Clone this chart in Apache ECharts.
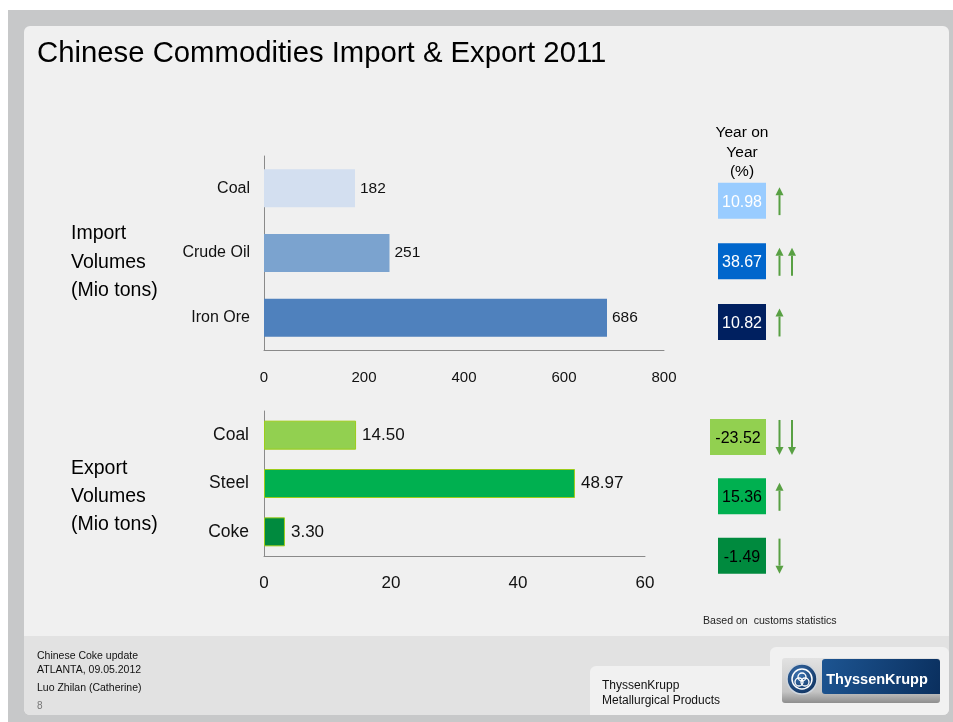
<!DOCTYPE html>
<html>
<head>
<meta charset="utf-8">
<script src="https://cdn.jsdelivr.net/npm/echarts@6/dist/echarts.min.js"></script>
<style>
html,body{margin:0;padding:0;background:#fff;}
#chart{width:953px;height:722px;}
</style>
</head>
<body>
<div id="chart"></div>
<script>
// ---- data ----
const importCategories = ['Coal', 'Crude Oil', 'Iron Ore'];
const importValues = [182, 251, 686];
const importYoY = [10.98, 38.67, 10.82];
const importArrows = [1, 2, 1];          // + up, - down, magnitude = number of arrows
const importTicks = [0, 200, 400, 600, 800];

const exportCategories = ['Coal', 'Steel', 'Coke'];
const exportValues = [14.50, 48.97, 3.30];
const exportYoY = [-23.52, 15.36, -1.49];
const exportArrows = [-2, 1, -1];
const exportTicks = [0, 20, 40, 60];

// ---- styles ----
const FONT = '"Liberation Sans", Arial, Helvetica, sans-serif';
const importColors = ['#d3dff0', '#7ba3cf', '#4f81bd'];
const exportColors = ['#92d050', '#00b050', '#008a3e'];
const importBoxColors = ['#99ccff', '#0066cc', '#002060'];
const exportBoxColors = ['#92d050', '#00b050', '#008a3e'];
const ARROW = '#58a043';
const AXIS = '#8a8a8a';

const chart = echarts.init(document.getElementById('chart'), null, {renderer: 'canvas'});

function barData(values, colors) {
  return values.map((v, i) => ({value: v, itemStyle: {color: colors[i]}}));
}
function yoyData(yoy, arrows) {
  return yoy.map((v, i) => [0, i, v, arrows[i]]);
}
function yoyRender(boxColors, textColor) {
  return function (params, api) {
    const idx = api.value(1);
    const val = api.value(2);
    const arr = api.value(3);
    const p = api.coord([0, idx]);
    const txt = val.toFixed(2);
    const w = 48 + Math.max(0, txt.length - 5) * 8;
    const h = 36;
    const children = [{
      type: 'rect',
      shape: {x: p[0] - w, y: p[1] - h / 2, width: w, height: h},
      style: {fill: boxColors[params.dataIndex]}
    }, {
      type: 'text',
      style: {
        x: p[0] - w / 2, y: p[1] + 1.5, text: txt, fill: textColor,
        font: '16px ' + FONT, textAlign: 'center', textVerticalAlign: 'middle'
      }
    }];
    const n = Math.abs(arr);
    const dir = arr > 0 ? 1 : -1;
    const L = dir > 0 ? 28 : 35;
    for (let k = 0; k < n; k++) {
      const x = p[0] + 13.5 + 12.5 * k;
      const tip = p[1] + 0.5 - dir * L / 2;
      const tail = p[1] + 0.5 + dir * L / 2;
      const headBase = tip + dir * 8;
      children.push({
        type: 'line',
        shape: {x1: x, y1: tail, x2: x, y2: headBase},
        style: {stroke: ARROW, lineWidth: 2}
      });
      children.push({
        type: 'polygon',
        shape: {points: [[x - 4, headBase], [x + 4, headBase], [x, tip]]},
        style: {fill: ARROW}
      });
    }
    return {type: 'group', children: children};
  };
}

function txt(x, y, text, size, opts) {
  return {
    type: 'text', x: x, y: y + 1.5, z: 10,
    style: Object.assign({text: text, fill: '#000', font: size + 'px ' + FONT, textVerticalAlign: 'middle'}, opts || {})
  };
}

const graphics = [
  // frame
  {type: 'rect', z: -10, shape: {x: 8, y: 10, width: 945, height: 712}, style: {fill: '#c7c8c9'}},
  {type: 'rect', z: -9, shape: {x: 24, y: 26, width: 925, height: 689, r: 6}, style: {fill: '#f0f0f0'}},
  {type: 'rect', z: -8, shape: {x: 24, y: 636, width: 925, height: 79, r: [0, 0, 6, 6]}, style: {fill: '#e2e2e2'}},
  {type: 'rect', z: -7, shape: {x: 590, y: 666, width: 200, height: 49, r: [6, 0, 0, 0]}, style: {fill: '#f1f1f1'}},
  {type: 'rect', z: -7, shape: {x: 770, y: 647, width: 179, height: 68, r: [6, 6, 6, 0]}, style: {fill: '#f1f1f1'}},
  // title
  txt(37, 52, 'Chinese Commodities Import & Export 2011', 29.3),
  // side labels
  txt(71, 232, 'Import', 19.5), txt(71, 261, 'Volumes', 19.5), txt(71, 289.5, '(Mio tons)', 19.5),
  txt(71, 467, 'Export', 19.5), txt(71, 495, 'Volumes', 19.5), txt(71, 523.5, '(Mio tons)', 19.5),
  // YoY header
  txt(742, 131, 'Year on', 15.5, {textAlign: 'center'}),
  txt(742, 151, 'Year', 15.5, {textAlign: 'center'}),
  txt(742, 170, '(%)', 15.5, {textAlign: 'center'}),
  txt(703, 620, 'Based on  customs statistics', 10.6, {fill: '#222'}),
  // footer
  txt(37, 655, 'Chinese Coke update', 10.5, {fill: '#111'}),
  txt(37, 669, 'ATLANTA, 09.05.2012', 10.5, {fill: '#111'}),
  txt(37, 687, 'Luo Zhilan (Catherine)', 10.5, {fill: '#111'}),
  txt(37, 705, '8', 10, {fill: '#777'}),
  txt(602, 684, 'ThyssenKrupp', 12, {fill: '#111'}),
  txt(602, 699, 'Metallurgical Products', 12, {fill: '#111'}),
  // logo
  {type: 'rect', z: 5, shape: {x: 782, y: 658, width: 158, height: 45, r: 3},
    style: {fill: new echarts.graphic.LinearGradient(0, 0, 0, 1, [{offset: 0, color: '#e2e2e2'}, {offset: 0.75, color: '#c4c4c4'}, {offset: 1, color: '#8e8e8e'}])}},
  {type: 'rect', z: 6, shape: {x: 822, y: 659, width: 118, height: 35, r: [3, 3, 0, 3]},
    style: {fill: new echarts.graphic.LinearGradient(0, 0, 1, 1, [{offset: 0, color: '#1d5592'}, {offset: 1, color: '#0a2f5e'}])}},
  {type: 'text', z: 7, x: 877, y: 679.5, style: {text: 'ThyssenKrupp', fill: '#fff', font: 'bold 14.5px ' + FONT, textAlign: 'center', textVerticalAlign: 'middle'}},
  {type: 'circle', z: 6, shape: {cx: 802, cy: 679, r: 15},
    style: {fill: new echarts.graphic.RadialGradient(0.4, 0.35, 0.7, [{offset: 0, color: '#3d73b0'}, {offset: 1, color: '#0d2f5c'}]), stroke: '#cfd6de', lineWidth: 1.5}},
  {type: 'circle', z: 7, shape: {cx: 802, cy: 679, r: 10}, style: {fill: 'none', stroke: '#ffffff', lineWidth: 1.5}},
  {type: 'circle', z: 7, shape: {cx: 799, cy: 682, r: 4}, style: {fill: 'none', stroke: '#ffffff', lineWidth: 1.3}},
  {type: 'circle', z: 7, shape: {cx: 805, cy: 682, r: 4}, style: {fill: 'none', stroke: '#ffffff', lineWidth: 1.3}},
  {type: 'circle', z: 7, shape: {cx: 802, cy: 677, r: 4}, style: {fill: 'none', stroke: '#ffffff', lineWidth: 1.3}}
];

const option = {
  backgroundColor: '#ffffff',
  animation: false,
  textStyle: {fontFamily: FONT},
  graphic: graphics,
  grid: [
    {left: 264, top: 156, width: 400, height: 194},
    {left: 264, top: 411, width: 381, height: 145},
    {left: 766, top: 170.3, width: 40, height: 182},
    {left: 766, top: 407.3, width: 40, height: 178}
  ],
  xAxis: [
    {gridIndex: 0, type: 'value', min: importTicks[0], max: importTicks[importTicks.length - 1], interval: importTicks[1] - importTicks[0],
      axisLine: {show: true, lineStyle: {color: AXIS, width: 1}}, axisTick: {show: false}, splitLine: {show: false},
      axisLabel: {margin: 20, fontSize: 15, color: '#111', fontFamily: FONT}},
    {gridIndex: 1, type: 'value', min: exportTicks[0], max: exportTicks[exportTicks.length - 1], interval: exportTicks[1] - exportTicks[0],
      axisLine: {show: true, lineStyle: {color: AXIS, width: 1}}, axisTick: {show: false}, splitLine: {show: false},
      axisLabel: {margin: 19, fontSize: 17, color: '#111', fontFamily: FONT}},
    {gridIndex: 2, type: 'value', min: 0, max: 1, show: false},
    {gridIndex: 3, type: 'value', min: 0, max: 1, show: false}
  ],
  yAxis: [
    {gridIndex: 0, type: 'category', inverse: true, data: importCategories,
      axisLine: {show: true, lineStyle: {color: AXIS, width: 1}}, axisTick: {show: false},
      axisLabel: {margin: 14, fontSize: 16, color: '#111', fontFamily: FONT, padding: [3, 0, 0, 0]}},
    {gridIndex: 1, type: 'category', inverse: true, data: exportCategories,
      axisLine: {show: true, lineStyle: {color: AXIS, width: 1}}, axisTick: {show: false},
      axisLabel: {margin: 15, fontSize: 17.5, color: '#111', fontFamily: FONT, padding: [3, 0, 0, 0]}},
    {gridIndex: 2, type: 'category', inverse: true, data: importCategories, show: false},
    {gridIndex: 3, type: 'category', inverse: true, data: exportCategories, show: false}
  ],
  series: [
    {type: 'bar', xAxisIndex: 0, yAxisIndex: 0, barWidth: 38, data: barData(importValues, importColors),
      label: {show: true, position: 'right', distance: 5, fontSize: 15.5, color: '#111', fontFamily: FONT, padding: [3, 0, 0, 0],
        formatter: p => String(Math.round(p.value))}},
    {type: 'bar', xAxisIndex: 1, yAxisIndex: 1, barWidth: 29, data: barData(exportValues, exportColors),
      itemStyle: {borderColor: '#9ccc1a', borderWidth: 1},
      label: {show: true, position: 'right', distance: 6, fontSize: 17, color: '#111', fontFamily: FONT, padding: [3, 0, 0, 0],
        formatter: p => Number(p.value).toFixed(2)}},
    {type: 'custom', xAxisIndex: 2, yAxisIndex: 2, clip: false, data: yoyData(importYoY, importArrows),
      renderItem: yoyRender(importBoxColors, '#ffffff')},
    {type: 'custom', xAxisIndex: 3, yAxisIndex: 3, clip: false, data: yoyData(exportYoY, exportArrows),
      renderItem: yoyRender(exportBoxColors, '#000000')}
  ]
};
chart.setOption(option);
</script>
</body>
</html>
